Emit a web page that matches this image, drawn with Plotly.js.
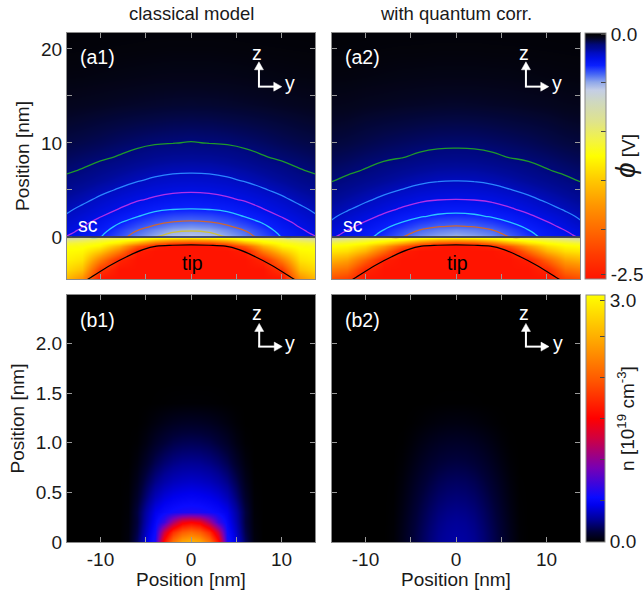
<!DOCTYPE html>
<html><head><meta charset="utf-8">
<script src="https://cdn.plot.ly/plotly-3.0.1.min.js"></script>
<style>html,body{margin:0;padding:0;background:#fff}#chart{width:643px;height:590px}</style>
</head><body><div id="chart"></div>
<script>
// ---------- data ----------
// lateral positions (nm), one half; the field is mirror symmetric in y
const yHalfTop = [0, 2, 4, 6, 8, 10, 12, 14];
// vertical positions (nm) of the potential grid rows
const zTop = [-4.5, -3.5, -2.5, -1.5, -1.0, -0.6, -0.3, -0.12, 0, 0.35, 0.7, 1.1, 1.6, 2.2, 3.0, 4.0, 5.0, 6.0, 7.0, 8.5, 10, 12, 14, 17, 20, 22];
// potential phi [V], classical model (rows follow zTop, columns follow yHalfTop)
const phiClassical = [
  [-2.5,-2.5,-2.5,-2.5,-2.5,-2.5,-1.8,-1.55],
  [-2.5,-2.5,-2.5,-2.5,-2.5,-2.3,-1.55,-1.4],
  [-2.5,-2.5,-2.5,-2.5,-2.4,-1.9,-1.38,-1.3],
  [-2.5,-2.5,-2.5,-2.45,-1.9,-1.5,-1.28,-1.25],
  [-2.5,-2.5,-2.45,-2.1,-1.6,-1.3,-1.22,-1.2],
  [-2.25,-2.2,-2.0,-1.65,-1.35,-1.22,-1.15,-1.1],
  [-1.75,-1.7,-1.55,-1.3,-1.2,-1.1,-1.0,-0.92],
  [-1.35,-1.3,-1.25,-1.15,-1.05,-0.95,-0.85,-0.75],
  [-0.58,-0.565,-0.515,-0.456,-0.393,-0.33,-0.289,-0.255],
  [-0.547,-0.533,-0.488,-0.437,-0.377,-0.318,-0.279,-0.247],
  [-0.514,-0.502,-0.462,-0.417,-0.362,-0.307,-0.269,-0.238],
  [-0.477,-0.465,-0.431,-0.392,-0.344,-0.293,-0.258,-0.229],
  [-0.429,-0.42,-0.397,-0.361,-0.321,-0.277,-0.245,-0.217],
  [-0.385,-0.378,-0.357,-0.326,-0.295,-0.257,-0.23,-0.202],
  [-0.329,-0.325,-0.313,-0.291,-0.26,-0.237,-0.21,-0.187],
  [-0.288,-0.282,-0.269,-0.252,-0.233,-0.21,-0.187,-0.168],
  [-0.25,-0.247,-0.238,-0.224,-0.205,-0.186,-0.166,-0.149],
  [-0.222,-0.219,-0.21,-0.196,-0.181,-0.163,-0.145,-0.13],
  [-0.194,-0.192,-0.184,-0.173,-0.158,-0.141,-0.124,-0.114],
  [-0.158,-0.156,-0.149,-0.137,-0.123,-0.112,-0.104,-0.096],
  [-0.122,-0.119,-0.116,-0.109,-0.102,-0.093,-0.086,-0.08],
  [-0.093,-0.092,-0.088,-0.084,-0.079,-0.073,-0.067,-0.062],
  [-0.065,-0.064,-0.062,-0.059,-0.056,-0.052,-0.049,-0.046],
  [-0.04,-0.04,-0.039,-0.037,-0.035,-0.033,-0.031,-0.03],
  [-0.025,-0.025,-0.024,-0.023,-0.022,-0.021,-0.02,-0.019],
  [-0.018,-0.018,-0.018,-0.017,-0.016,-0.016,-0.015,-0.014]
];
// potential phi [V], with quantum correction
const phiQuantum = [
  [-2.5,-2.5,-2.5,-2.5,-2.5,-2.5,-2.25,-2.15],
  [-2.5,-2.5,-2.5,-2.5,-2.5,-2.4,-2.0,-1.9],
  [-2.5,-2.5,-2.5,-2.5,-2.45,-2.05,-1.7,-1.6],
  [-2.5,-2.5,-2.5,-2.45,-2.0,-1.6,-1.4,-1.35],
  [-2.5,-2.48,-2.4,-2.1,-1.7,-1.4,-1.28,-1.25],
  [-2.2,-2.15,-1.95,-1.65,-1.4,-1.25,-1.18,-1.12],
  [-1.7,-1.65,-1.5,-1.3,-1.2,-1.1,-1.0,-0.92],
  [-1.3,-1.28,-1.22,-1.15,-1.05,-0.95,-0.85,-0.75],
  [-0.525,-0.505,-0.47,-0.415,-0.36,-0.31,-0.28,-0.25],
  [-0.495,-0.477,-0.447,-0.396,-0.346,-0.299,-0.271,-0.239],
  [-0.463,-0.449,-0.423,-0.377,-0.332,-0.289,-0.261,-0.228],
  [-0.426,-0.418,-0.396,-0.355,-0.316,-0.277,-0.249,-0.216],
  [-0.39,-0.383,-0.361,-0.328,-0.295,-0.262,-0.234,-0.2],
  [-0.348,-0.341,-0.323,-0.301,-0.27,-0.243,-0.216,-0.188],
  [-0.305,-0.301,-0.287,-0.265,-0.243,-0.218,-0.194,-0.173],
  [-0.26,-0.257,-0.248,-0.232,-0.212,-0.191,-0.172,-0.153],
  [-0.229,-0.226,-0.217,-0.202,-0.186,-0.169,-0.151,-0.134],
  [-0.199,-0.197,-0.189,-0.177,-0.162,-0.146,-0.13,-0.116],
  [-0.174,-0.172,-0.164,-0.153,-0.139,-0.124,-0.113,-0.104],
  [-0.137,-0.135,-0.128,-0.118,-0.112,-0.104,-0.095,-0.088],
  [-0.11,-0.109,-0.105,-0.1,-0.094,-0.086,-0.078,-0.073],
  [-0.085,-0.084,-0.081,-0.077,-0.073,-0.068,-0.061,-0.057],
  [-0.06,-0.059,-0.057,-0.055,-0.052,-0.049,-0.045,-0.043],
  [-0.037,-0.037,-0.036,-0.035,-0.033,-0.031,-0.029,-0.028],
  [-0.023,-0.023,-0.022,-0.022,-0.021,-0.02,-0.019,-0.018],
  [-0.017,-0.017,-0.017,-0.016,-0.016,-0.015,-0.014,-0.014]
];
// equipotential line levels [V] and their colours
const contourLevels = [-0.12, -0.2, -0.26, -0.33, -0.42, -0.52];
const contourColors = ['#1f9a2a', '#2a86ff', '#b030e8', '#2cc6ff', '#cc6633', '#cfc040'];
// tip outline (nm)
const tipY = [-12.6, -11.4, -8.9, -7.1, -5.3, -3.8, -2, 0, 2, 3.8, 5.3, 7.1, 8.9, 11.4, 12.6];
const tipZ = [-5.2, -4.5, -3.0, -2.1, -1.35, -0.98, -0.88, -0.85, -0.88, -0.98, -1.35, -2.1, -3.0, -4.5, -5.2];
const interfaceZ = 0;

// electron density n [1e19 cm^-3]
const yHalfBot = [0, 1, 2, 3, 4, 5, 6, 7, 8, 10, 14];
const zBot = [0, 0.1, 0.2, 0.3, 0.45, 0.6, 0.8, 1.0, 1.2, 1.4, 1.6, 2.0, 2.5];
const nClassical = [
  [2.55,2.45,2.15,1.6,0.6,0.42,0.18,0.03,0,0,0],
  [2.1,2.0,1.75,1.25,0.55,0.37,0.15,0.025,0,0,0],
  [1.5,1.42,1.1,0.7,0.5,0.33,0.13,0.02,0,0,0],
  [0.6,0.59,0.56,0.52,0.45,0.3,0.13,0.015,0,0,0],
  [0.48,0.47,0.45,0.41,0.34,0.22,0.09,0.01,0,0,0],
  [0.38,0.37,0.35,0.31,0.25,0.16,0.06,0.005,0,0,0],
  [0.27,0.265,0.245,0.21,0.16,0.09,0.03,0,0,0,0],
  [0.17,0.165,0.15,0.12,0.085,0.04,0.008,0,0,0,0],
  [0.08,0.077,0.068,0.052,0.032,0.012,0,0,0,0,0],
  [0.01,0.0095,0.008,0.005,0.002,0,0,0,0,0,0],
  [0,0,0,0,0,0,0,0,0,0,0],
  [0,0,0,0,0,0,0,0,0,0,0],
  [0,0,0,0,0,0,0,0,0,0,0]
];
const nQuantum = [
  [0.30,0.29,0.265,0.22,0.165,0.11,0.055,0.012,0,0,0],
  [0.29,0.28,0.256,0.213,0.16,0.106,0.053,0.011,0,0,0],
  [0.275,0.266,0.243,0.2,0.15,0.1,0.048,0.009,0,0,0],
  [0.255,0.247,0.225,0.186,0.14,0.09,0.042,0.007,0,0,0],
  [0.22,0.213,0.194,0.16,0.12,0.075,0.033,0.004,0,0,0],
  [0.185,0.179,0.162,0.133,0.098,0.06,0.024,0.002,0,0,0],
  [0.135,0.13,0.117,0.095,0.068,0.038,0.012,0,0,0,0],
  [0.085,0.082,0.073,0.058,0.039,0.018,0.003,0,0,0,0],
  [0.035,0.033,0.028,0.02,0.011,0.003,0,0,0,0,0],
  [0.003,0.003,0.002,0.001,0,0,0,0,0,0,0],
  [0,0,0,0,0,0,0,0,0,0,0],
  [0,0,0,0,0,0,0,0,0,0,0],
  [0,0,0,0,0,0,0,0,0,0,0]
];
const columnTitles = ['classical model', 'with quantum corr.'];
const panelLabels = ['(a1)', '(a2)', '(b1)', '(b2)'];
const xTickVals = [-10, -5, 0, 5, 10];
const xTickText = ['-10', '', '0', '', '10'];
const yTopTickVals = [0, 5, 10, 15, 20];
const yTopTickText = ['0', '', '10', '', '20'];
const yBotTickVals = [0, 0.5, 1.0, 1.5, 2.0];
const yBotTickText = ['0', '0.5', '1.0', '1.5', '2.0'];
// colour-bar ticks; the end labels sit just inside the bar ends, as in the picture
const phiTickVals = [-2.45, -2, -1.5, -1, -0.5, -0.012];
const phiTickText = ['-2.5', '', '', '', '', '0.0'];
const nTickVals = [0.005, 0.5, 1, 1.5, 2, 2.5, 2.93];
const nTickText = ['0.0', '', '', '', '', '', '3.0'];

// ---------- build ----------
const mirrorAxis = h => h.slice(1).reverse().map(v => -v).concat(h);
const mirrorRows = rows => rows.map(r => r.slice(1).reverse().concat(r));
const yTopFull = mirrorAxis(yHalfTop);
const yBotFull = mirrorAxis(yHalfBot);

const FONT = 'Liberation Sans, Arial, Helvetica, sans-serif';
const TXT = '#1a1a1a';

const phiScale = [
  [0.0, '#ff1400'], [0.1, '#ff3c00'], [0.2, '#ff6a00'], [0.3, '#ff9600'],
  [0.4, '#ffc800'], [0.5, '#ffff00'], [0.56, '#f4f440'], [0.64, '#dfe38c'],
  [0.72, '#cfd8c0'], [0.768, '#c4cee6'], [0.8, '#90a8ea'], [0.832, '#4868f5'],
  [0.868, '#0a20ff'], [0.896, '#0010e8'], [0.92, '#000cc0'], [0.936, '#000a98'],
  [0.952, '#00087c'], [0.968, '#030744'], [0.98, '#040520'], [0.99, '#03030c'], [1.0, '#000000']
];
const nScale = [
  [0, '#000000'], [0.01, '#00000e'], [0.04, '#000038'], [0.09, '#000095'],
  [0.15, '#0000ee'], [0.18, '#0a0aff'], [0.3, '#7800b4'], [0.42, '#d00040'],
  [0.5, '#ff0000'], [0.65, '#ff5500'], [0.8, '#ffa000'], [1, '#ffff00']
];

const traces = [];
function topPanel(grid, xa, ya) {
  const z = mirrorRows(grid);
  traces.push({type: 'heatmap', x: yTopFull, y: zTop, z: z, zsmooth: 'best',
    coloraxis: 'coloraxis', xaxis: xa, yaxis: ya, hoverinfo: 'skip'});
  contourLevels.forEach((L, i) => {
    traces.push({type: 'contour', x: yTopFull, y: zTop, z: z, xaxis: xa, yaxis: ya,
      autocontour: false, contours: {start: L, end: L, size: 0.01, coloring: 'none', showlines: true},
      line: {color: contourColors[i], width: 1.3, smoothing: 1.3, dash: 'solid'},
      showscale: false, hoverinfo: 'skip', showlegend: false});
  });
  traces.push({type: 'scatter', mode: 'lines', x: tipY, y: tipZ, xaxis: xa, yaxis: ya,
    line: {color: '#000000', width: 1.2, shape: 'spline', smoothing: 1}, hoverinfo: 'skip', showlegend: false});
}
function botPanel(grid, xa, ya) {
  traces.push({type: 'heatmap', x: yBotFull, y: zBot, z: mirrorRows(grid), zsmooth: 'best',
    coloraxis: 'coloraxis2', xaxis: xa, yaxis: ya, hoverinfo: 'skip'});
}
topPanel(phiClassical, 'x', 'y');
topPanel(phiQuantum, 'x2', 'y2');
botPanel(nClassical, 'x3', 'y3');
botPanel(nQuantum, 'x4', 'y4');

const W = 643, H = 590;
const colL = [67 / W, 315 / W], colR = [332 / W, 580 / W];
const rowT = [1 - 279 / H, 1 - 33 / H], rowB = [1 - 542 / H, 1 - 295 / H];

const axBase = {showline: true, mirror: 'ticks', linecolor: '#8a8a8a', linewidth: 1,
  ticks: 'inside', ticklen: 5, tickcolor: '#9a9a9a', tickwidth: 1, showgrid: false, zeroline: false,
  tickfont: {family: FONT, size: 19, color: TXT}, fixedrange: true};
const titleFont = {family: FONT, size: 19, color: TXT};
function xAx(dom, anchor, labels) {
  return Object.assign({}, axBase, {domain: dom, anchor: anchor, range: [-13.7, 13.7],
    tickmode: 'array', tickvals: xTickVals, ticktext: xTickText, showticklabels: labels,
    title: labels ? {text: 'Position [nm]', font: titleFont, standoff: 4} : undefined});
}
function yAx(dom, anchor, range, tv, tt, labels) {
  return Object.assign({}, axBase, {domain: dom, anchor: anchor, range: range,
    tickmode: 'array', tickvals: tv, ticktext: tt, showticklabels: labels,
    title: labels ? {text: 'Position [nm]', font: titleFont, standoff: 6} : undefined});
}

const ann = [];
ann.push({xref: 'paper', yref: 'paper', x: 191 / W, y: 1 - 14 / H, text: columnTitles[0], showarrow: false,
  font: {family: FONT, size: 18.5, color: TXT}, xanchor: 'center', yanchor: 'middle'});
ann.push({xref: 'paper', yref: 'paper', x: 455.7 / W, y: 1 - 14 / H, text: columnTitles[1], showarrow: false,
  font: {family: FONT, size: 18.5, color: TXT}, xanchor: 'center', yanchor: 'middle'});

// axis-direction glyph positions (fractions of each panel)
const panels = [
  {x: 'x', y: 'y', h: 246, lab: panelLabels[0], ly: 0.902, ox: 0.774, oy: 0.782, vt: 0.883, ht: 0.866, zx: 0.766, zy: 0.919, yx: 0.899, yy: 0.797},
  {x: 'x2', y: 'y2', h: 246, lab: panelLabels[1], ly: 0.902, ox: 0.782, oy: 0.782, vt: 0.883, ht: 0.874, zx: 0.775, zy: 0.919, yx: 0.908, yy: 0.797},
  {x: 'x3', y: 'y3', h: 247, lab: panelLabels[2], ly: 0.899, ox: 0.775, oy: 0.791, vt: 0.885, ht: 0.868, zx: 0.765, zy: 0.927, yx: 0.899, yy: 0.804},
  {x: 'x4', y: 'y4', h: 247, lab: panelLabels[3], ly: 0.899, ox: 0.782, oy: 0.791, vt: 0.885, ht: 0.875, zx: 0.775, zy: 0.927, yx: 0.910, yy: 0.804}
];
const white = {family: FONT, size: 19.5, color: '#ffffff'};
const shapes = [];
panels.forEach(p => {
  const xr = p.x + ' domain', yr = p.y + ' domain';
  const px = 1 / 248, py = 1 / p.h;
  ann.push({xref: xr, yref: yr, x: 0.044, y: p.ly, text: p.lab, showarrow: false, font: white, xanchor: 'left', yanchor: 'middle'});
  ann.push({xref: xr, yref: yr, x: p.zx, y: p.zy, text: 'z', showarrow: false, font: white, xanchor: 'center', yanchor: 'middle'});
  ann.push({xref: xr, yref: yr, x: p.yx, y: p.yy, text: 'y', showarrow: false, font: white, xanchor: 'center', yanchor: 'middle'});
  const st = {color: '#ffffff', width: 2};
  // vertical (z) arrow
  shapes.push({type: 'line', xref: xr, yref: yr, x0: p.ox, y0: p.oy, x1: p.ox, y1: p.vt - 7 * py, line: st});
  shapes.push({type: 'path', xref: xr, yref: yr, fillcolor: '#ffffff', line: {color: '#ffffff', width: 0.5},
    path: `M ${p.ox - 4.5 * px} ${p.vt - 8 * py} L ${p.ox + 4.5 * px} ${p.vt - 8 * py} L ${p.ox} ${p.vt} Z`});
  // horizontal (y) arrow
  shapes.push({type: 'line', xref: xr, yref: yr, x0: p.ox - 1 * px, y0: p.oy, x1: p.ht - 7 * px, y1: p.oy, line: st});
  shapes.push({type: 'path', xref: xr, yref: yr, fillcolor: '#ffffff', line: {color: '#ffffff', width: 0.5},
    path: `M ${p.ht - 8 * px} ${p.oy + 4.5 * py} L ${p.ht - 8 * px} ${p.oy - 4.5 * py} L ${p.ht} ${p.oy} Z`});
});
[['x', 'y'], ['x2', 'y2']].forEach(([xa, ya]) => {
  ann.push({xref: xa, yref: ya, x: -11.4, y: 1.25, text: 'sc', showarrow: false, font: white, xanchor: 'center', yanchor: 'middle'});
  ann.push({xref: xa, yref: ya, x: 0.2, y: -2.75, text: 'tip', showarrow: false,
    font: {family: FONT, size: 19.5, color: '#000000'}, xanchor: 'center', yanchor: 'middle'});
  shapes.push({type: 'line', xref: xa + ' domain', yref: ya,
    x0: 0, x1: 1, y0: interfaceZ, y1: interfaceZ, line: {color: '#1c2550', width: 1.3}, layer: 'above'});
});

const cbBase = {thickness: 21, thicknessmode: 'pixels', lenmode: 'fraction', xanchor: 'left', yanchor: 'middle',
  xpad: 0, ypad: 0, outlinecolor: '#8a8a8a', outlinewidth: 1, ticks: 'inside', ticklen: 5, tickcolor: '#444',
  tickmode: 'array', tickfont: {family: FONT, size: 19, color: TXT}};

const layout = {
  width: W, height: H, paper_bgcolor: '#ffffff', plot_bgcolor: '#000000',
  margin: {l: 0, r: 0, t: 0, b: 0, autoexpand: false},
  font: {family: FONT, color: TXT},
  showlegend: false,
  xaxis: xAx(colL, 'y', false), yaxis: yAx(rowT, 'x', [-4.47, 21.7], yTopTickVals, yTopTickText, true),
  xaxis2: xAx(colR, 'y2', false), yaxis2: yAx(rowT, 'x2', [-4.47, 21.7], yTopTickVals, yTopTickText, false),
  xaxis3: xAx(colL, 'y3', true), yaxis3: yAx(rowB, 'x3', [0, 2.49], yBotTickVals, yBotTickText, true),
  xaxis4: xAx(colR, 'y4', true), yaxis4: yAx(rowB, 'x4', [0, 2.49], yBotTickVals, yBotTickText, false),
  coloraxis: {cmin: -2.5, cmax: 0, colorscale: phiScale,
    colorbar: Object.assign({}, cbBase, {x: 585 / W, y: 1 - 156 / H, len: 246 / H,
      tickvals: phiTickVals, ticktext: phiTickText,
      title: {text: '<span style="font-size:28px"><i>ϕ</i></span> [V]', side: 'right', font: {family: FONT, size: 19, color: TXT}}})},
  coloraxis2: {cmin: 0, cmax: 3, colorscale: nScale,
    colorbar: Object.assign({}, cbBase, {x: 586 / W, y: 1 - 418.5 / H, len: 247 / H, thickness: 19,
      tickvals: nTickVals, ticktext: nTickText,
      title: {text: 'n [10<sup>19</sup> cm<sup>-3</sup>]', side: 'right', font: {family: FONT, size: 19, color: TXT}}})},
  annotations: ann, shapes: shapes
};
Plotly.newPlot('chart', traces, layout, {staticPlot: true, displayModeBar: false});
</script></body></html>
